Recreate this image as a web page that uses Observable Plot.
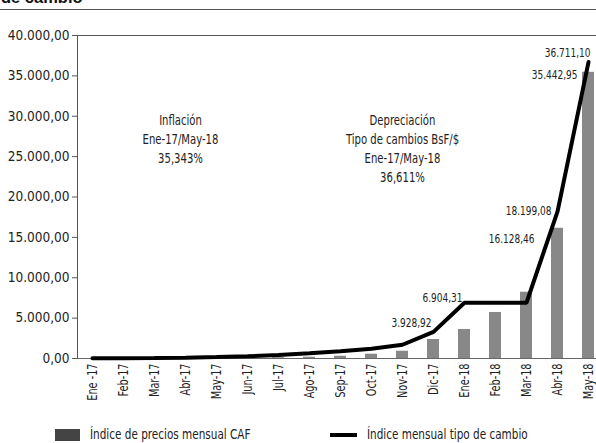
<!DOCTYPE html>
<html>
<head>
<meta charset="utf-8">
<script src="https://cdn.jsdelivr.net/npm/d3@7"></script>
<script src="https://cdn.jsdelivr.net/npm/@observablehq/plot@0.6"></script>
<style>
  html, body { margin: 0; padding: 0; background: #fff; }
  body { width: 596px; height: 443px; overflow: hidden; position: relative;
         font-family: 'DejaVu Sans Condensed', 'DejaVu Sans', sans-serif; color: #222; }
  #title { position: absolute; left: 0; top: 0; width: 596px; height: 9px; overflow: hidden;
           border-bottom: 1px solid #555; }
  #title span { position: absolute; left: 1px; top: -12px; font-family: 'Liberation Sans', Arial, sans-serif;
                font-weight: bold; font-size: 16.5px; line-height: 18px; color: #111; }
  #chart { position: absolute; left: 0; top: 10px; }
  #legend { position: absolute; left: 0; top: 420px; width: 596px; height: 23px; font-size: 14px; }
  .sw { position: absolute; }
  .lt { position: absolute; top: 6px; line-height: 16px; white-space: nowrap; color: #222;
        transform: scaleX(0.83); transform-origin: 0 50%; }
</style>
</head>
<body>
<div id="title"><span>de cambio</span></div>
<div id="chart"></div>
<div id="legend">
  <div class="sw" style="left:55px; top:9px; width:25px; height:12px; background:#444;"></div>
  <div class="lt" style="left:90px;">Índice de precios mensual CAF</div>
  <div class="sw" style="left:330px; top:13px; width:27px; height:4px; background:#000;"></div>
  <div class="lt" style="left:367px;">Índice mensual tipo de cambio</div>
</div>
<script>
const categories = ["Ene -17","Feb-17","Mar-17","Abr-17","May-17","Jun-17","Jul-17","Ago-17","Sep-17","Oct-17","Nov-17","Dic-17","Ene-18","Feb-18","Mar-18","Abr-18","May-18"];
const precios = [5, 8, 12, 20, 35, 60, 100, 160, 280, 530, 900, 2350, 3590, 5700, 8210, 16128.46, 35442.95];
const tipoCambio = [20, 30, 50, 90, 180, 280, 420, 650, 900, 1200, 1700, 3300, 6904.31, 6904.31, 6904.31, 18199.08, 36711.10];
const yTicks = [0, 5000, 10000, 15000, 20000, 25000, 30000, 35000, 40000];
const labelCats = ["Dic-17", "Ene-18", "Abr-18", "Abr-18", "May-18", "May-18"];
const labelValues = [3928.92, 6904.31, 18199.08, 16128.46, 36711.10, 35442.95];
const noteInflacion = "Inflación\nEne-17/May-18\n35,343%";
const noteDepreciacion = "Depreciación\nTipo de cambios BsF/$\nEne-17/May-18\n36,611%";

const loc = d3.formatLocale({decimal: ",", thousands: ".", grouping: [3], currency: ["", ""]});
const fmt = loc.format(",.2f");

const rows = categories.map((c, i) => ({cat: c, precio: precios[i], tipo: tipoCambio[i]}));
const labels = labelCats.map((c, i) => ({cat: c, v: labelValues[i], t: fmt(labelValues[i])}));

const labelOffsets = [[-2, -4], [-2, -5], [-6, -1], [-23, 11], [2, -9], [-11, 3]];
const labelMarks = labels.map((d, i) => Plot.text([d], {
  x: "cat", y: "v", text: "t", textAnchor: "end",
  dx: labelOffsets[i][0], dy: labelOffsets[i][1], fontSize: 12.5, fill: "#222"
}));

const FONT = "'DejaVu Sans Condensed', 'DejaVu Sans', sans-serif";
const chart = Plot.plot({
  width: 596,
  height: 410,
  marginTop: 25,
  marginBottom: 62,
  marginLeft: 77,
  marginRight: 0,
  style: {fontFamily: FONT, fontSize: "14px", color: "#222", background: "#fff"},
  x: {domain: categories, range: [77, 604], paddingInner: 0.6, paddingOuter: 0.3, label: null},
  y: {domain: [0, 40000], label: null},
  marks: [
    Plot.barY(rows, {x: "cat", y: "precio", fill: "#888"}),
    Plot.frame({anchor: "top", stroke: "#555"}),
    Plot.frame({anchor: "left", stroke: "#555"}),
    Plot.ruleY([0], {stroke: "#666"}),
    Plot.line(rows, {x: "cat", y: "tipo", stroke: "#000", strokeWidth: 4, strokeLinejoin: "miter"}),
    Plot.axisY({ticks: yTicks, tickFormat: fmt, tickSize: 5, tickPadding: 3, fontSize: 13.5, stroke: "#555", fill: "#222"}),
    Plot.axisX({tickRotate: -90, tickSize: 0, tickPadding: 5, fontSize: 13.5, fill: "#222"}),
    Plot.text([noteInflacion], {x: () => "Abr-17", y: () => 30000, dx: -5, dy: -5, lineAnchor: "top", lineHeight: 1.36, fontSize: 14, fill: "#222"}),
    Plot.text([noteDepreciacion], {x: () => "Nov-17", y: () => 30000, dx: 0, dy: -5, lineAnchor: "top", lineHeight: 1.36, fontSize: 14, fill: "#222"}),
    ...labelMarks
  ]
});

// condense text glyphs horizontally (narrow typeface look), keeping anchors in place
d3.select(chart).selectAll("text").each(function () {
  const g = this.parentNode;
  const role = g && g.getAttribute ? (g.getAttribute("aria-label") || "") : "";
  if (role === "y-axis tick label") return;
  const s = 0.8;
  const t = this.getAttribute("transform");
  if (t) {
    this.setAttribute("transform", t + ` scale(${s},1)`);
  } else {
    const x = +this.getAttribute("x") || 0, y = +this.getAttribute("y") || 0;
    this.removeAttribute("x"); this.removeAttribute("y");
    this.setAttribute("transform", `translate(${x},${y}) scale(${s},1)`);
  }
});
document.getElementById("chart").appendChild(chart);
</script>
</body>
</html>
